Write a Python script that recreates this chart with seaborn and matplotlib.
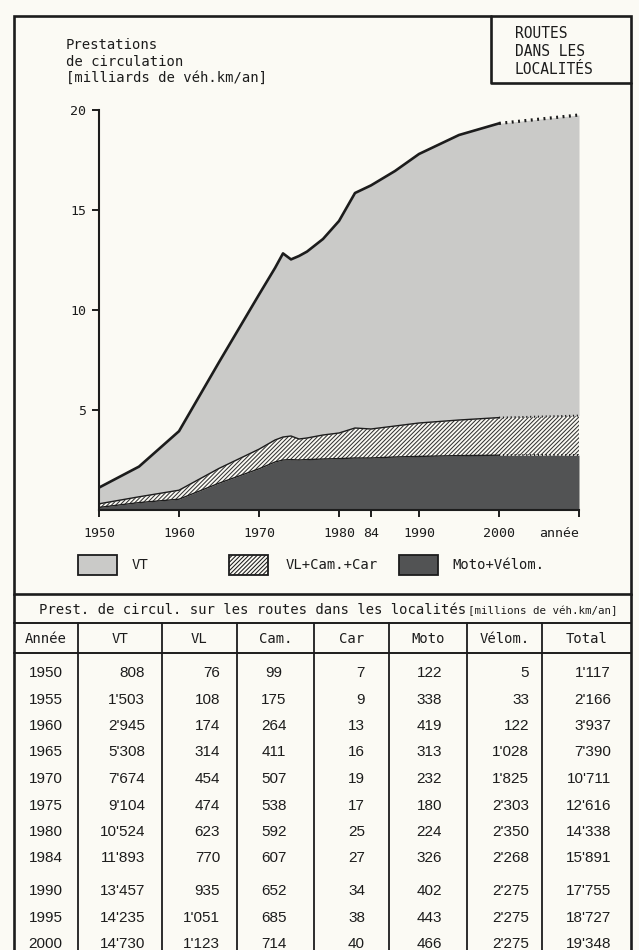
import pandas as pd
import seaborn as sns
import matplotlib.pyplot as plt
from matplotlib import font_manager
from matplotlib.patches import Rectangle

# --- chart values (milliards de véh.km/an) ---
years = [1950, 1955, 1960, 1965, 1970, 1972, 1973, 1974, 1975, 1976,
         1978, 1980, 1982, 1984, 1987, 1990, 1995, 2000, 2010]
moto_velom = [0.13, 0.37, 0.54, 1.34, 2.06, 2.40, 2.50, 2.52, 2.50, 2.52,
              2.55, 2.57, 2.60, 2.60, 2.65, 2.68, 2.72, 2.74, 2.74]
vl_cam_car = [0.18, 0.29, 0.45, 0.74, 0.98, 1.10, 1.15, 1.18, 1.05, 1.08,
              1.20, 1.28, 1.50, 1.45, 1.55, 1.67, 1.78, 1.88, 1.98]
vt = [0.81, 1.51, 2.95, 5.31, 7.73, 8.60, 9.18, 8.83, 9.15, 9.32,
      9.80, 10.60, 11.75, 12.18, 12.75, 13.45, 14.25, 14.71, 15.03]

x_ticks = [1950, 1960, 1970, 1980, 1984, 1990, 2000, 2010]
x_labels = ["1950", "1960", "1970", "1980", "84", "1990", "2000", "année"]
y_ticks = [5, 10, 15, 20]

# --- table values (millions de véh.km/an) ---
tab_years = [1950, 1955, 1960, 1965, 1970, 1975, 1980, 1984, 1990, 1995, 2000]
tab_vt = [808, 1503, 2945, 5308, 7674, 9104, 10524, 11893, 13457, 14235, 14730]
tab_vl = [76, 108, 174, 314, 454, 474, 623, 770, 935, 1051, 1123]
tab_cam = [99, 175, 264, 411, 507, 538, 592, 607, 652, 685, 714]
tab_car = [7, 9, 13, 16, 19, 17, 25, 27, 34, 38, 40]
tab_moto = [122, 338, 419, 313, 232, 180, 224, 326, 402, 443, 466]
tab_velom = [5, 33, 122, 1028, 1825, 2303, 2350, 2268, 2275, 2275, 2275]
tab_total = [1117, 2166, 3937, 7390, 10711, 12616, 14338, 15891, 17755, 18727, 19348]
headers = ["Année", "VT", "VL", "Cam.", "Car", "Moto", "Vélom.", "Total"]

PAPER = "#fbfaf4"
INK = "#1c1c1c"
LIGHT = "#cacac8"
DARK = "#525354"
HATCH = "#333333"
HATCH_PAT = "////////"

sns.set_theme(style="white")
plt.rcParams["font.family"] = ["DejaVu Sans Mono", "DejaVu Sans"]
plt.rcParams["hatch.linewidth"] = 0.75
MONO = "DejaVu Sans Mono"
names = {f.name for f in font_manager.fontManager.ttflist}
if "Liberation Sans Narrow" in names:
    NUM_FONT, NUM_SIZE = "Liberation Sans Narrow", 12
else:
    NUM_FONT, NUM_SIZE = "Liberation Sans", 11

fig = plt.figure(figsize=(6.39, 9.5), dpi=100, facecolor=PAPER)

# overlay in pixel coordinates for frames, legend and table
ov = fig.add_axes([0, 0, 1, 1])
ov.set_xlim(0, 639)
ov.set_ylim(950, 0)
ov.axis("off")

lw_frame = 1.9
ov.add_patch(Rectangle((14, 16), 617, 578, fill=False, ec=INK, lw=lw_frame))
ov.plot([491, 491, 631], [16, 83, 83], color=INK, lw=lw_frame)
for i, s in enumerate(["ROUTES", "DANS LES", "LOCALITÉS"]):
    ov.text(515, 33 + i * 18, s, fontsize=10.5, family=MONO, va="center", color=INK)
for i, s in enumerate(["Prestations", "de circulation", "[milliards de véh.km/an]"]):
    ov.text(66, 45 + i * 16.5, s, fontsize=10, family=MONO, va="center", color=INK)

# legend
leg = [("VT", dict(fc=LIGHT), 78, 132),
       ("VL+Cam.+Car", dict(fc=PAPER, hatch=HATCH_PAT), 229, 286),
       ("Moto+Vélom.", dict(fc=DARK), 399, 452)]
for label, style, x0, xt in leg:
    ov.add_patch(Rectangle((x0, 555), 39, 20, ec=INK, lw=1.3, **style))
    ov.text(xt, 565, label, fontsize=10, family=MONO, va="center", color=INK)

# table
ov.plot([14, 14], [594, 952], color=INK, lw=lw_frame)
ov.plot([631, 631], [594, 952], color=INK, lw=lw_frame)
ov.plot([14, 631], [623, 623], color=INK, lw=1.4)
ov.plot([14, 631], [653, 653], color=INK, lw=1.4)
col_edges = [14, 77.5, 161.5, 237, 313.5, 389, 466.5, 542, 631]
for xe in col_edges[1:-1]:
    ov.plot([xe, xe], [623, 952], color=INK, lw=1.3)
ov.text(39, 610, "Prest. de circul. sur les routes dans les localités",
        fontsize=10, family=MONO, va="center", color=INK)
ov.text(468, 611, "[millions de véh.km/an]", fontsize=7.8, family=MONO,
        va="center", color=INK)
for j, h in enumerate(headers):
    cx = (col_edges[j] + col_edges[j + 1]) / 2
    ov.text(cx, 639, h, fontsize=10, family=MONO, ha="center", va="center", color=INK)


def fmt(v):
    return f"{v:,}".replace(",", "'")


cols = [(tab_vt, 145, "right"), (tab_vl, 220, "right"), (tab_cam, 274, "center"),
        (tab_car, 365, "right"), (tab_moto, 442, "right"), (tab_velom, 529, "right"),
        (tab_total, 611, "right")]
for i, yr in enumerate(tab_years):
    y = 673 + i * 26.5 + (6 if yr > 1984 else 0)
    ov.text(45.5, y, str(yr), fontsize=NUM_SIZE, family=NUM_FONT, ha="center",
            va="center", color=INK)
    for vals, xa, ha in cols:
        ov.text(xa, y, fmt(vals[i]), fontsize=NUM_SIZE, family=NUM_FONT, ha=ha,
                va="center", color=INK)

# --- chart ---
df = pd.DataFrame({"year": years, "moto": moto_velom, "light": vl_cam_car, "vt": vt})
df["top_moto"] = df["moto"]
df["top_light"] = df["moto"] + df["light"]
df["total"] = df["top_light"] + df["vt"]

ax = fig.add_axes([99 / 639, 440 / 950, 480 / 639, 400 / 950])
ax.set_facecolor("none")
ax.fill_between(df["year"], 0, df["top_moto"], color=DARK, lw=0)
ax.fill_between(df["year"], df["top_moto"], df["top_light"], facecolor=PAPER,
                edgecolor=HATCH, hatch=HATCH_PAT, lw=0)
ax.fill_between(df["year"], df["top_light"], df["total"], color=LIGHT, lw=0)

solid = df[df["year"] <= 2000]
proj = df[df["year"] >= 2000]
for col, lw in [("total", 1.9), ("top_light", 1.0), ("top_moto", 1.0)]:
    sns.lineplot(data=solid, x="year", y=col, ax=ax, color=INK, lw=lw)
    sns.lineplot(data=proj, x="year", y=col, ax=ax, color=INK, lw=lw + 0.4,
                 linestyle=(0, (0.6, 1.4)))

ax.set_xlim(1950, 2010)
ax.set_ylim(0, 20)
ax.set_xticks(x_ticks)
ax.set_xticklabels(x_labels, fontsize=9.5, family=MONO, color=INK)
ax.get_xticklabels()[-1].set_horizontalalignment("right")
ax.set_yticks(y_ticks)
ax.set_yticklabels([str(v) for v in y_ticks], fontsize=9.5, family=MONO, color=INK)
ax.set_xlabel("")
ax.set_ylabel("")
for s in ["top", "right"]:
    ax.spines[s].set_visible(False)
for s in ["left", "bottom"]:
    ax.spines[s].set_color(INK)
    ax.spines[s].set_linewidth(1.5)
ax.tick_params(axis="x", direction="out", length=5, width=1.4, color=INK, pad=7,
               bottom=True)
ax.tick_params(axis="y", direction="out", length=5, width=1.4, color=INK, pad=4,
               left=True)

fig.savefig("out.png", dpi=100, facecolor=PAPER)
